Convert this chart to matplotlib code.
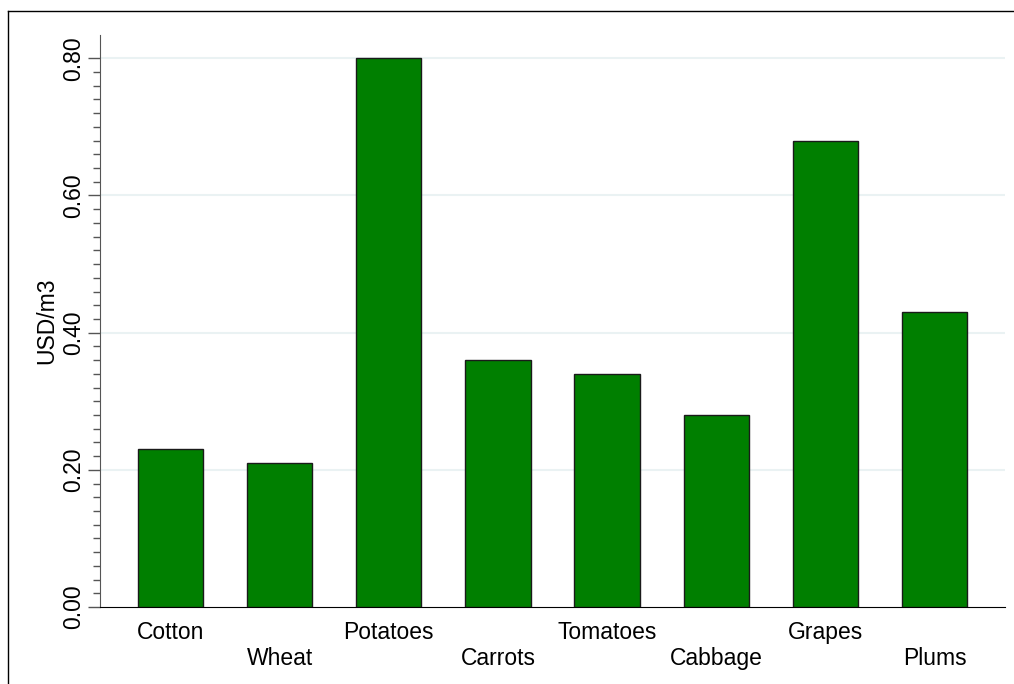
import matplotlib
matplotlib.use("Agg")
import matplotlib.pyplot as plt
from matplotlib.lines import Line2D
import numpy as np

crops = ["Cotton", "Wheat", "Potatoes", "Carrots", "Tomatoes", "Cabbage", "Grapes", "Plums"]
usd_m3 = [0.23, 0.21, 0.80, 0.36, 0.34, 0.28, 0.68, 0.43]
yticks = [0.0, 0.2, 0.4, 0.6, 0.8]
ytick_labels = ["0.00", "0.20", "0.40", "0.60", "0.80"]

W, H = 1014, 684
plt.rcParams['font.family'] = ['Liberation Sans', 'DejaVu Sans']
fig = plt.figure(figsize=(W / 100, H / 100), dpi=100)

# outer frame (runs off the right/bottom edge)
fig.add_artist(Line2D([8 / W, 8 / W], [0, 1 - 11 / H], color='black', lw=1))
fig.add_artist(Line2D([8 / W, 1], [1 - 11 / H, 1 - 11 / H], color='black', lw=1))

ax = fig.add_axes([100 / W, 1 - 607 / H, 905 / W, 572 / H])
x = np.arange(len(crops))
ax.bar(x, usd_m3, width=0.6, color='#007f00', edgecolor='#1a1a1a', linewidth=1, zorder=3)

ax.set_xlim(-0.645, len(crops) - 1 + 0.645)
ax.set_ylim(0, 0.834)

for s in ['top', 'right']:
    ax.spines[s].set_visible(False)
ax.spines['left'].set_color('#555555')
ax.spines['bottom'].set_color('black')

ax.set_yticks(yticks)
ax.set_yticklabels(ytick_labels, rotation=90, va='center', fontsize=16.5)
ax.set_yticks(np.arange(0, 0.801, 0.02), minor=True)
ax.tick_params(axis='y', which='major', length=9, width=1, color='#555555', pad=1.5)
ax.tick_params(axis='y', which='minor', length=5, width=1, color='#555555')
for v in yticks[1:]:
    ax.axhline(v, color='#eaf2f3', lw=1.5, zorder=1)

labels = [c if i % 2 == 0 else "\n" + c for i, c in enumerate(crops)]
ax.set_xticks(x)
ax.set_xticklabels(labels, fontsize=16.5, linespacing=1.15)
ax.tick_params(axis='x', length=0, pad=10)

fig.text(47 / W, 1 - 321 / H, "USD/m3", rotation=90, ha='center', va='center', fontsize=16.5)

fig.savefig("out.png", dpi=100)
